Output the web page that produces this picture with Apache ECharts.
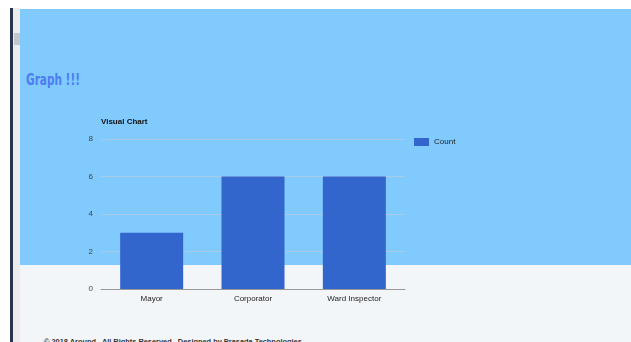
<!DOCTYPE html>
<html>
<head>
<meta charset="utf-8">
<script src="https://cdn.jsdelivr.net/npm/echarts@6/dist/echarts.min.js"></script>
<style>
html,body{margin:0;padding:0;width:631px;height:342px;overflow:hidden;background:#fff;font-family:"Liberation Sans",Arial,sans-serif;}
#blue{position:absolute;left:20px;top:9px;width:611px;height:256px;background:#80cafe;}
#gray{position:absolute;left:20px;top:265px;width:611px;height:77px;background:#f3f6f9;}
#nav{position:absolute;left:10px;top:8px;width:3px;height:334px;background:#27364f;}
#scroll{position:absolute;left:13px;top:8px;width:7px;height:334px;background:#ececee;}
#thumb{position:absolute;left:14px;top:33px;width:6px;height:12px;background:#c3c6cc;}
#head{position:absolute;left:26px;top:71px;font-family:"DejaVu Sans Condensed","DejaVu Sans",sans-serif;font-weight:bold;font-size:15px;color:#4d7cf4;transform:scaleX(0.78);transform-origin:0 0;white-space:nowrap;}
#foot{position:absolute;left:44px;top:337px;font-size:7.4px;font-weight:bold;color:#333;white-space:nowrap;}
#chart{position:absolute;left:0;top:0;width:631px;height:342px;}
</style>
</head>
<body>
<div id="blue"></div>
<div id="gray"></div>
<div id="nav"></div>
<div id="scroll"></div>
<div id="thumb"></div>
<div id="head">Graph !!!</div>
<div id="foot">© 2018 Around . All Rights Reserved . Designed by Prasada Technologies</div>
<div id="chart"></div>
<script>
const categories = ["Mayor", "Corporator", "Ward Inspector"];
const counts = [3, 6, 6];
const seriesName = "Count";
const chartTitle = "Visual Chart";

const chart = echarts.init(document.getElementById('chart'), null, {renderer:'canvas'});
chart.setOption({
  backgroundColor: 'transparent',
  animation: false,
  title: {
    text: chartTitle, left: 101, top: 118, padding: 0,
    textStyle: {fontSize: 8, fontWeight: 'bold', color: '#111', fontFamily: 'Liberation Sans'}
  },
  legend: {
    left: 414, top: 138, padding: 0, itemWidth: 15, itemHeight: 8, icon: 'rect',
    textStyle: {fontSize: 8, color: '#222', fontFamily: 'Liberation Sans'},
    data: [seriesName]
  },
  grid: {left: 101, right: 226, top: 139, bottom: 53},
  xAxis: {
    type: 'category', data: categories,
    axisLine: {show: true, lineStyle: {color: '#999', width: 1}},
    axisTick: {show: false},
    axisLabel: {fontSize: 8, color: '#222', margin: 6, fontFamily: 'Liberation Sans'}
  },
  yAxis: {
    type: 'value', min: 0, max: 8, interval: 2,
    axisLine: {show: false}, axisTick: {show: false},
    axisLabel: {fontSize: 8, color: '#444', margin: 8, fontFamily: 'Liberation Sans'},
    splitLine: {lineStyle: {color: '#a9cbe6', width: 1}}
  },
  series: [{
    name: seriesName, type: 'bar', data: counts, barWidth: 63,
    itemStyle: {color: '#3366cc'}
  }]
});
</script>
</body>
</html>
